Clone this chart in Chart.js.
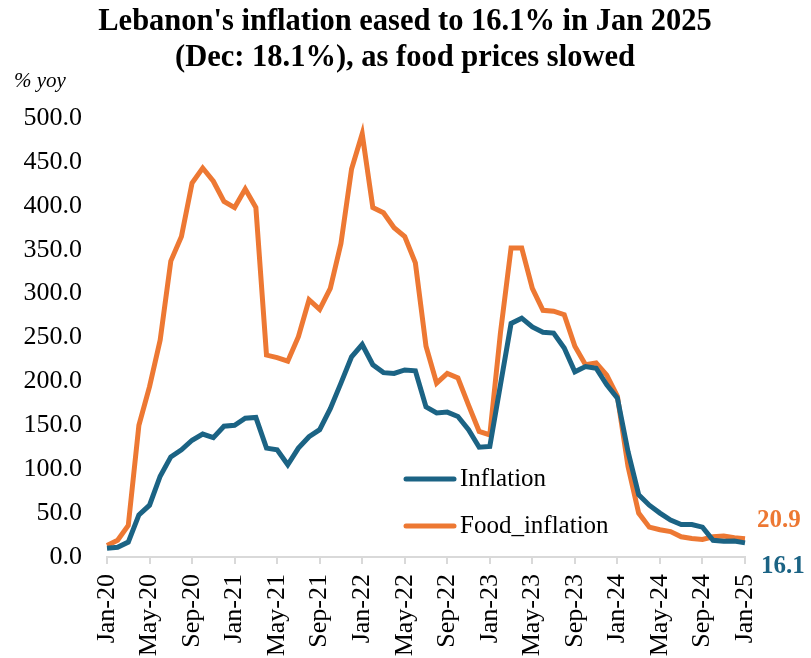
<!DOCTYPE html>
<html>
<head>
<meta charset="utf-8">
<script src="https://cdn.jsdelivr.net/npm/chart.js@4.4.1/dist/chart.umd.min.js"></script>
<style>
  html, body { margin: 0; padding: 0; background: #fff; }
  #wrap { width: 811px; height: 658px; position: relative; }
</style>
</head>
<body>
<div id="wrap"><canvas id="chartInfl"></canvas></div>
<script>
// monthly, Jan-20 .. Jan-25
const months = ['Jan', 'Feb', 'Mar', 'Apr', 'May', 'Jun', 'Jul', 'Aug', 'Sep', 'Oct', 'Nov', 'Dec'];
const labels = [];
for (let y = 20; y <= 25; y++) {
    for (let m = 0; m < 12; m++) {
        if (y === 25 && m > 0) break;
        labels.push(months[m] + '-' + y);
    }
}

const inflation = [10, 11, 17, 48, 59, 92, 114, 122, 133, 140, 136, 149, 150, 158, 159, 124, 122, 105, 124, 137,
    145, 169, 198, 228, 242, 219, 210, 209, 213, 212, 171, 164, 165, 160, 145, 125, 126, 196, 266, 272,
    262, 256, 255, 238, 211, 217, 215, 196, 181, 120, 71, 59, 50, 42, 37, 37, 34, 19, 18, 18.1, 16.1];

const foodInflation = [13, 19, 36, 150, 194, 247, 337, 365, 426, 443, 428, 405, 398, 419, 398, 230, 227, 223, 251, 293,
    282, 306, 357, 442, 482, 398, 392, 375, 365, 335, 240, 198, 209, 204, 173, 143, 139, 255, 352, 352,
    306, 281, 280, 276, 240, 219, 221, 207, 183, 103, 50, 34, 31, 29, 23, 21, 20, 23, 24, 22, 20.9];

const yTicks = [0, 50, 100, 150, 200, 250, 300, 350, 400, 450, 500];

const BLUE = '#1b6384';
const ORANGE = '#ed7833';
const SERIF = '"Liberation Serif", "Times New Roman", serif';

const extras = {
    id: 'extras',
    afterDraw: function (chart) {
        const ctx = chart.ctx;
        const xs = chart.scales.x;
        const ys = chart.scales.y;
        ctx.save();

        // title
        ctx.fillStyle = '#000';
        ctx.textAlign = 'center';
        ctx.textBaseline = 'alphabetic';
        ctx.font = 'bold 30.5px ' + SERIF;
        ctx.fillText("Lebanon's inflation eased to 16.1% in Jan 2025", 405, 30);
        ctx.fillText('(Dec: 18.1%), as food prices slowed', 405, 66);

        // unit
        ctx.textAlign = 'left';
        ctx.font = 'italic 21px ' + SERIF;
        ctx.fillText('% yoy', 14, 87);

        // legend
        const leg = [['Inflation', BLUE, 479], ['Food_inflation', ORANGE, 526]];
        ctx.font = '25px ' + SERIF;
        ctx.textBaseline = 'middle';
        leg.forEach(function (l) {
            ctx.strokeStyle = l[1];
            ctx.lineWidth = 5;
            ctx.lineCap = 'round';
            ctx.beginPath();
            ctx.moveTo(406, l[2]);
            ctx.lineTo(454, l[2]);
            ctx.stroke();
            ctx.fillStyle = '#000';
            ctx.fillText(l[0], 460, l[2]);
        });

        // end labels
        const last = labels.length - 1;
        const px = xs.getPixelForValue(last);
        ctx.font = 'bold 25px ' + SERIF;
        ctx.fillStyle = ORANGE;
        ctx.fillText(foodInflation[last].toFixed(1), px + 12, ys.getPixelForValue(foodInflation[last]) - 18);
        ctx.fillStyle = BLUE;
        ctx.fillText(inflation[last].toFixed(1), px + 16, ys.getPixelForValue(inflation[last]) + 24);
        ctx.restore();
    }
};

const canvas = document.getElementById('chartInfl');
new Chart(canvas, {
    type: 'line',
    data: {
        labels: labels,
        datasets: [
            {
                label: 'Inflation',
                data: inflation,
                borderColor: BLUE,
                borderWidth: 5,
                pointRadius: 0,
                tension: 0,
                fill: false,
            },
            {
                label: 'Food_inflation',
                data: foodInflation,
                borderColor: ORANGE,
                borderWidth: 5,
                pointRadius: 0,
                tension: 0,
                fill: false,
            },
        ],
    },
    options: {
        responsive: true,
        maintainAspectRatio: false,
        animation: false,
        layout: { padding: { top: 118, right: 66, left: 12, bottom: 0 } },
        plugins: {
            legend: { display: false },
            title: { display: false },
            tooltip: { enabled: false },
        },
        scales: {
            x: {
                offset: false,
                afterFit: function (s) { s.height = 101; },
                grid: { drawOnChartArea: false, drawTicks: true, tickLength: 7, color: '#d9d9d9', lineWidth: 2 },
                border: { display: true, color: '#d9d9d9', width: 2 },
                ticks: {
                    autoSkip: false,
                    maxRotation: 90,
                    minRotation: 90,
                    padding: 10,
                    color: '#000',
                    font: { family: SERIF, size: 26 },
                    callback: function (v, i) { return i % 4 === 0 ? labels[i] : null; },
                },
            },
            y: {
                min: 0,
                max: 500,
                afterFit: function (s) { s.width = 95; },
                afterBuildTicks: function (s) { s.ticks = yTicks.map(function (v) { return { value: v }; }); },
                grid: { display: false, drawTicks: false },
                border: { display: false },
                ticks: {
                    padding: 25,
                    color: '#000',
                    font: { family: SERIF, size: 26 },
                    callback: function (v) { return Number(v).toFixed(1); },
                },
            },
        },
    },
    plugins: [extras],
});
</script>
</body>
</html>
